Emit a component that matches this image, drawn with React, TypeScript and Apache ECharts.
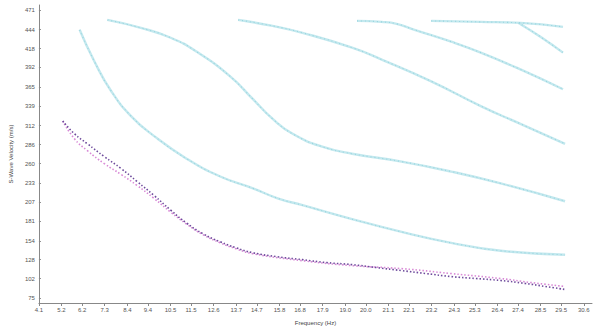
import React, { useEffect, useRef } from "react";
import * as echarts from "echarts";

const xTicks = [4.1, 5.2, 6.2, 7.3, 8.4, 9.4, 10.5, 11.5, 12.6, 13.7, 14.7, 15.8, 16.8, 17.9, 19.0, 20.0, 21.1, 22.1, 23.2, 24.3, 25.3, 26.4, 27.4, 28.5, 29.5, 30.6];
const yTicks = [75, 102, 128, 154, 181, 207, 233, 260, 286, 312, 339, 365, 392, 418, 444, 471];

const mode1: [number, number][] = [[6.08, 443.7], [6.8, 400.2], [7.62, 359.4], [8.58, 325.3], [9.69, 298.1], [11.28, 266.8], [12.92, 242.3], [14.51, 226.0], [15.71, 212.4], [16.92, 202.9], [19.33, 183.8], [21.74, 166.2], [24.15, 151.2], [26.56, 140.3], [29.69, 134.9]];
const mode2: [number, number][] = [[7.43, 457.3], [9.06, 446.4], [10.51, 432.8], [11.76, 413.8], [13.4, 379.8], [14.51, 348.5], [15.47, 321.3], [16.44, 300.9], [17.88, 283.2], [19.33, 273.6], [21.74, 262.8], [24.15, 249.1], [26.56, 232.8], [29.69, 208.3]];
const mode3: [number, number][] = [[13.79, 457.3], [15.47, 449.1], [16.92, 439.6], [19.33, 419.2], [20.77, 402.9], [23.18, 373.0], [25.59, 339.0], [27.52, 314.5], [29.69, 287.2]];
const mode4: [number, number][] = [[19.57, 456.0], [20.77, 454.6], [21.5, 451.9], [22.37, 443.7], [24.15, 427.4], [25.59, 412.4], [27.52, 389.3], [29.59, 362.1]];
const mode5: [number, number][] = [[23.18, 456.0], [25.59, 454.6], [27.52, 453.2], [29.59, 447.8]];
const mode6: [number, number][] = [[27.43, 453.2], [28.49, 434.2], [29.59, 412.4]];
const measured: [number, number][] = [[5.26, 318.5], [5.83, 300.9], [6.46, 287.2], [7.28, 269.6], [8.1, 253.2], [8.87, 235.5], [9.69, 216.5], [10.51, 196.1], [11.28, 178.4], [12.1, 163.4], [12.92, 152.6], [13.69, 144.4], [14.51, 137.6], [15.71, 132.1], [16.92, 128.1], [18.12, 124.0], [19.33, 121.3], [20.53, 117.2], [21.74, 113.1], [22.94, 109.0], [24.15, 104.9], [25.35, 102.2], [26.56, 99.5], [27.76, 95.4], [28.73, 91.3], [29.69, 87.2]];
const theoretical: [number, number][] = [[5.26, 318.5], [5.83, 294.0], [6.46, 277.7], [7.28, 260.0], [8.1, 245.1], [8.87, 230.1], [9.69, 212.4], [10.51, 193.4], [11.28, 177.0], [12.1, 162.1], [12.92, 151.2], [13.69, 143.0], [14.51, 136.2], [16.92, 126.7], [19.33, 119.9], [21.74, 115.8], [24.15, 109.0], [26.56, 102.2], [28.0, 96.8], [29.69, 91.3]];

const cyanModes = [mode1, mode2, mode3, mode4, mode5, mode6];

export default function App() {
  const ref = useRef<HTMLDivElement>(null);
  useEffect(() => {
    if (!ref.current) return;
    const chart = echarts.init(ref.current, null, { renderer: "svg" });
    const cyanSeries = cyanModes.map((d) => ({
      type: "line",
      data: d,
      smooth: true,
      showSymbol: false,
      lineStyle: { color: "#bde6ec", width: 2.4, opacity: 0.9 },
      z: 2,
    }));
    const cyanDots = cyanModes.map((d) => ({
      type: "line",
      data: d,
      smooth: true,
      showSymbol: false,
      lineStyle: { color: "#8ccfdb", width: 1.1, type: [1, 3], opacity: 0.8 },
      z: 3,
    }));
    chart.setOption({
      animation: false,
      grid: { left: 34, right: 5, top: 5, bottom: 25.3, containLabel: false },
      xAxis: {
        type: "value",
        min: 4.1,
        max: 31.0,
        name: "Frequency (Hz)",
        nameLocation: "middle",
        nameGap: 17,
        nameTextStyle: { fontSize: 6, color: "#444", fontFamily: "Liberation Sans" },
        axisLine: { lineStyle: { color: "#888", width: 1 } },
        axisTick: { show: true, length: 3, lineStyle: { color: "#888" }, customValues: xTicks },
        axisLabel: {
          fontSize: 6,
          color: "#555",
          fontFamily: "Liberation Sans",
          margin: 4,
          customValues: xTicks,
          formatter: (v: number) => v.toFixed(1),
        },
        splitLine: { show: false },
      },
      yAxis: {
        type: "value",
        min: 68.6,
        max: 477.8,
        name: "S-Wave Velocity (m/s)",
        nameLocation: "middle",
        nameGap: 23,
        nameTextStyle: { fontSize: 6, color: "#444", fontFamily: "Liberation Sans" },
        axisLine: { show: true, lineStyle: { color: "#888", width: 1 } },
        axisTick: { show: true, length: 2, inside: true, lineStyle: { color: "#888" }, customValues: yTicks },
        axisLabel: {
          fontSize: 6,
          color: "#555",
          fontFamily: "Liberation Sans",
          margin: 4,
          customValues: yTicks,
          formatter: (v: number) => String(Math.round(v)),
        },
        splitLine: { show: false },
      },
      series: [
        ...cyanSeries,
        ...cyanDots,
        {
          type: "line",
          data: theoretical,
          smooth: true,
          showSymbol: false,
          lineStyle: { color: "#d889d6", width: 1.6, type: [1.5, 2] },
          z: 4,
        },
        {
          type: "line",
          data: measured,
          smooth: true,
          showSymbol: false,
          lineStyle: { color: "#6e4b9c", width: 1.6, type: [1.5, 2] },
          z: 5,
        },
      ],
    });
    return () => chart.dispose();
  }, []);
  return <div ref={ref} style={{ width: 597, height: 331, position: "absolute", left: 0, top: 0 }} />;
}
